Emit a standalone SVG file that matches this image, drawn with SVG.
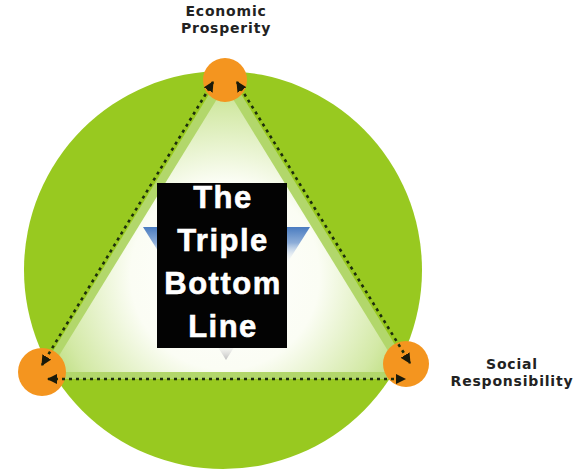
<svg xmlns="http://www.w3.org/2000/svg" width="585" height="470" viewBox="0 0 585 470">
<defs>
<style>
.lbl{font-family:"DejaVu Sans",Verdana,sans-serif;font-weight:bold;font-size:14px;fill:#222;text-anchor:middle;letter-spacing:0.8px}
.title{font-family:"Liberation Sans",Arial,sans-serif;font-weight:bold;font-size:31px;fill:#fff;stroke:#fff;stroke-width:0.6;text-anchor:middle;letter-spacing:1.5px}
.dot{fill:none;stroke:#1c2e0c;stroke-width:2.6;stroke-dasharray:3 4;marker-start:url(#ah);marker-end:url(#ah)}
.node{fill:#f4951f}
</style>
<marker id="ah" viewBox="0 0 10 10" refX="9" refY="5" markerWidth="4" markerHeight="4" orient="auto-start-reverse">
<path d="M0,0 L10,5 L0,10 Z" fill="#1a1a0a"/>
</marker>
<radialGradient id="tri" cx="225" cy="275" r="210" gradientUnits="userSpaceOnUse">
<stop offset="0" stop-color="#ffffff"/>
<stop offset="0.45" stop-color="#fbfdf4"/>
<stop offset="0.8" stop-color="#d3e9a6"/>
<stop offset="1" stop-color="#b3d86c"/>
</radialGradient>
<linearGradient id="inv" x1="0" y1="227" x2="0" y2="360" gradientUnits="userSpaceOnUse">
<stop offset="0" stop-color="#4a7cc0"/>
<stop offset="0.12" stop-color="#8eaed8"/>
<stop offset="0.28" stop-color="#ffffff" stop-opacity="0"/>
<stop offset="0.85" stop-color="#ffffff" stop-opacity="0"/>
<stop offset="1" stop-color="#bdbdbd"/>
</linearGradient>
</defs>
<rect width="585" height="470" fill="#ffffff"/>
<g id="background">
<circle cx="223" cy="270" r="199" fill="#98c920"/>
<polygon points="225,68 36,379 416,379" fill="#b2d76b"/>
<polygon points="225,86 49,372 401,372" fill="url(#tri)"/>
<polygon points="143,227 310,227 226,360" fill="url(#inv)"/>
</g>
<g id="node-economic">
<circle class="node" cx="225" cy="80" r="22"/>
<text class="lbl" x="226" y="16">Economic</text>
<text class="lbl" x="226" y="33">Prosperity</text>
</g>
<g id="node-social-left">
<circle class="node" cx="42" cy="372" r="24"/>
</g>
<g id="node-social">
<circle class="node" cx="406" cy="364" r="23"/>
<text class="lbl" x="512" y="369">Social</text>
<text class="lbl" x="512" y="386">Responsibility</text>
</g>
<g id="connectors">
<line class="dot" x1="213" y1="82" x2="42" y2="365"/>
<line class="dot" x1="237" y1="82" x2="410" y2="363"/>
<line class="dot" x1="48" y1="379" x2="405" y2="379"/>
</g>
<g id="title">
<rect x="157" y="183" width="130" height="165" fill="#030303"/>
<text class="title" x="223" y="208">The</text>
<text class="title" x="223" y="251">Triple</text>
<text class="title" x="223" y="294">Bottom</text>
<text class="title" x="223" y="337">Line</text>
</g>
</svg>
